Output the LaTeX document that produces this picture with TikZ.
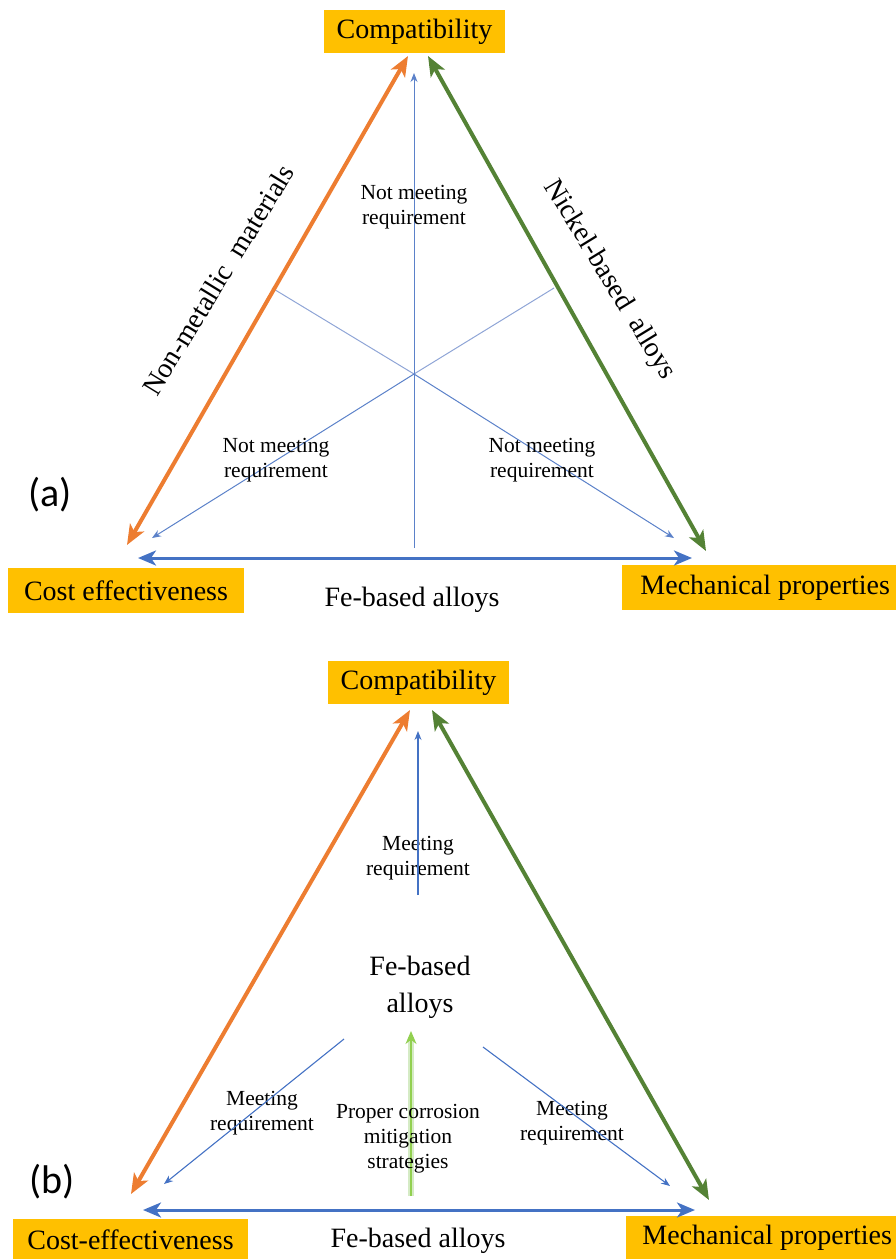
\documentclass[tikz,border=0pt]{standalone}
\usepackage{fontspec}
\setmainfont{Liberation Serif}
\newfontfamily\labelfont{Carlito}
\usetikzlibrary{arrows.meta}
\definecolor{boxgold}{HTML}{FFC000}
\definecolor{edgeorange}{HTML}{ED7D31}
\definecolor{edgegreen}{HTML}{548235}
\definecolor{edgeblue}{HTML}{4472C4}
\definecolor{thinblue}{HTML}{8FA5D6}
\definecolor{litegreen}{HTML}{92D050}
\definecolor{palegreen}{HTML}{D5EBC5}
\tikzset{
  goldbox/.style={fill=boxgold, inner sep=0pt, font=\fontsize{28}{32}\selectfont},
  bigtxt/.style={font=\fontsize{28}{32}\selectfont, inner sep=0pt},
  smalltxt/.style={font=\fontsize{21.5}{25}\selectfont, align=center, inner sep=0pt},
  panellbl/.style={font=\labelfont\fontsize{40}{44}\selectfont, inner sep=0pt},
  thickarrow/.style={line width=4pt, {Stealth[length=20pt,width=16pt,inset=5pt]}-{Stealth[length=20pt,width=16pt,inset=5pt]}},
  basearrow/.style={line width=3pt, edgeblue, {Stealth[length=18pt,width=15pt,inset=5pt]}-{Stealth[length=18pt,width=15pt,inset=5pt]}},
  thinline/.style={line width=1pt, thinblue},
  thinarrow/.style={line width=1.1pt, -{Stealth[length=9pt,width=7pt]}},
}
\begin{document}
\begin{tikzpicture}[x=1pt,y=-1pt]
\useasboundingbox (0,0) rectangle (896,1259);

% ---------------- panel (a) ----------------
\node[goldbox, minimum width=181pt, minimum height=43pt] (compA) at (414.5,31.5) {Compatibility};
\node[goldbox, minimum width=236pt, minimum height=45pt] (costA) at (126,590.5) {Cost effectiveness};
\node[goldbox, minimum width=274pt, minimum height=45pt, anchor=west] (mechA) at (622,587.5) {\hspace*{12pt}Mechanical properties\hfill};
\node[bigtxt] (feA) at (412,600) {Fe-based alloys};
\node[panellbl] (lblA) at (50,495) {(a)};

\coordinate (aTop1) at (408,56);
\coordinate (aTop2) at (428,56);
\coordinate (aLeft) at (127,545);
\coordinate (aRight) at (706,551);
\coordinate (aBL) at (138,558);
\coordinate (aBR) at (692,558);
\coordinate (aMidL) at (272,288);
\coordinate (aMidR) at (554,288);
\coordinate (aC) at (414,374);
\coordinate (aVbot) at (414,548);
\coordinate (aVtop) at (414,73);
\coordinate (aArrL) at (152,538);
\coordinate (aArrR) at (674,538);

\draw[thinline] (aMidL) -- (aC);
\draw[thinline] (aMidR) -- (aC);
\draw[thinline, -{Stealth[length=9pt,width=7pt]}, edgeblue!70!thinblue] (aC) -- (aArrL);
\draw[thinline, -{Stealth[length=9pt,width=7pt]}, edgeblue!70!thinblue] (aC) -- (aArrR);
\draw[thinline, -{Stealth[length=9pt,width=7pt]}, edgeblue!70!thinblue] (aVbot) -- (aVtop);

\draw[thickarrow, edgeorange] (aLeft) -- (aTop1);
\draw[thickarrow, edgegreen] (aRight) -- (aTop2);
\draw[basearrow] (aBL) -- (aBR);

\node[bigtxt, rotate=58.5] (nonmet) at (218,280) {Non-metallic\ \ materials};
\node[bigtxt, rotate=-58.5] (nickel) at (609,280) {Nickel-based\ \ alloys};

\node[smalltxt] (nmTop) at (414,207) {Not meeting\\requirement};
\node[smalltxt] (nmLeft) at (276,460) {Not meeting\\requirement};
\node[smalltxt] (nmRight) at (542,460) {Not meeting\\requirement};

% ---------------- panel (b) ----------------
\node[goldbox, minimum width=181pt, minimum height=43pt] (compB) at (418.5,682.5) {Compatibility};
\node[goldbox, minimum width=235pt, minimum height=42pt] (costB) at (130.5,1240) {Cost-effectiveness};
\node[goldbox, minimum width=270pt, minimum height=44pt, anchor=west] (mechB) at (626,1238) {\hspace*{12pt}Mechanical properties\hfill};
\node[bigtxt] (feB) at (418,1241) {Fe-based alloys};
\node[panellbl] (lblB) at (52,1182) {(b)};

\coordinate (bTop1) at (410,710);
\coordinate (bTop2) at (432,710);
\coordinate (bLeft) at (131,1194);
\coordinate (bRight) at (709,1200);
\coordinate (bBL) at (143,1210);
\coordinate (bBR) at (695,1210);

\draw[thickarrow, edgeorange] (bLeft) -- (bTop1);
\draw[thickarrow, edgegreen] (bRight) -- (bTop2);
\draw[basearrow] (bBL) -- (bBR);

\node[bigtxt, align=center, font=\fontsize{28}{37}\selectfont] (feCenter) at (420,987) {Fe-based\\alloys};
\node[smalltxt] (meetTop) at (418,858) {Meeting\\requirement};
\node[smalltxt] (meetLeft) at (262,1113) {Meeting\\requirement};
\node[smalltxt] (meetRight) at (572,1123) {Meeting\\requirement};

\coordinate (bVbot) at (418,895);
\coordinate (bVtop) at (418,731);
\coordinate (bLs) at (344,1039);
\coordinate (bLe) at (164,1184);
\coordinate (bRs) at (483,1047);
\coordinate (bRe) at (670,1186);
\draw[thinarrow, edgeblue] (bVbot) -- (bVtop);
\draw[thinarrow, edgeblue] (bLs) -- (bLe);
\draw[thinarrow, edgeblue] (bRs) -- (bRe);

\coordinate (gBot) at (411,1196);
\coordinate (gTop) at (411,1031);
\draw[line width=6pt, palegreen, shorten >=6pt] (gBot) -- (gTop);
\draw[line width=1.6pt, litegreen, -{Stealth[length=13pt,width=11pt]}] (gBot) -- (gTop);

\node[smalltxt] (proper) at (408,1139) {Proper corrosion\\mitigation\\strategies};
\end{tikzpicture}
\end{document}
